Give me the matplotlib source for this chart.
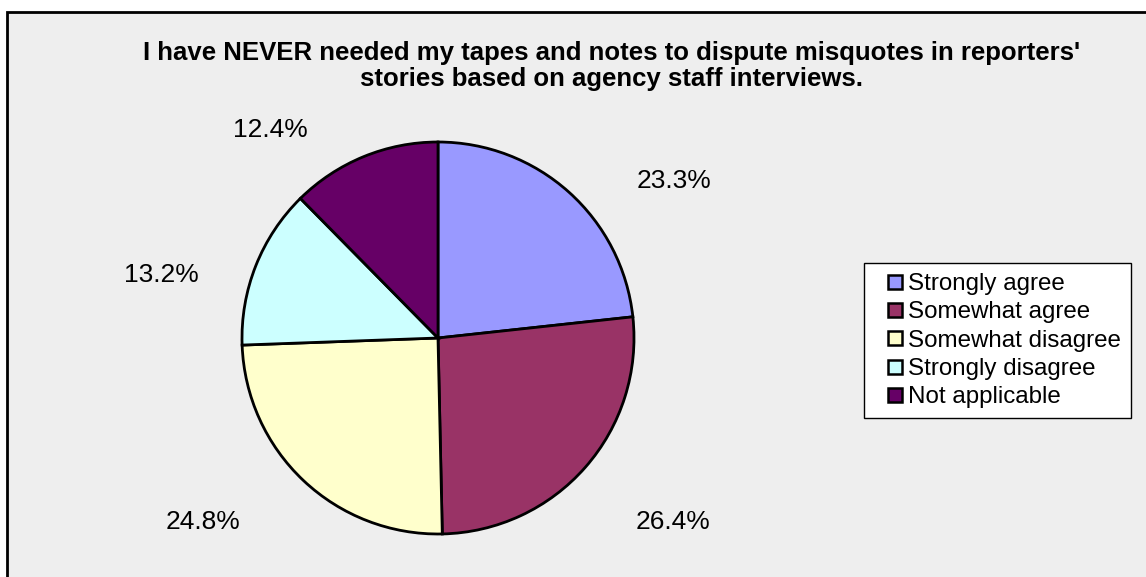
import matplotlib.pyplot as plt
from matplotlib.patches import Rectangle
from matplotlib.lines import Line2D

plt.rcParams['font.family'] = ['Liberation Sans', 'DejaVu Sans']

# survey answers
answers = ['Strongly agree', 'Somewhat agree', 'Somewhat disagree',
           'Strongly disagree', 'Not applicable']
shares = [23.3, 26.4, 24.8, 13.2, 12.4]
colours = ['#9999FF', '#993366', '#FFFFCC', '#CCFFFF', '#660066']

# where each percentage sits, in pie radius units
label_xy = [(1.204, 0.801), (1.199, -0.939), (-1.199, -0.939),
            (-1.413, 0.321), (-0.857, 1.061)]

W, H = 1146, 577
fig = plt.figure(figsize=(W / 100, H / 100), dpi=100)
fig.patch.set_facecolor('white')

# grey chart area with black frame (runs off right and bottom edges)
fig.patches.append(Rectangle((7 / W, -0.05), 1.1, 1 - 12 / H + 0.05,
                             transform=fig.transFigure, facecolor='#EEEEEE',
                             edgecolor='black', linewidth=2, zorder=-5))

fig.text(612 / W, 1 - 66 / H,
         "I have NEVER needed my tapes and notes to dispute misquotes in reporters'\n"
         "stories based on agency staff interviews.",
         ha='center', va='center', fontsize=18.5, fontweight='bold',
         multialignment='center', linespacing=1.15)

cx, cy, r = 438, 338, 196
ax = fig.add_axes([(cx - r) / W, (H - cy - r) / H, 2 * r / W, 2 * r / H])
wedges, texts, autotexts = ax.pie(
    shares, colors=colours, startangle=90, counterclock=False,
    autopct='%.1f%%', pctdistance=1.3,
    wedgeprops=dict(edgecolor='black', linewidth=2))
for t, (x, y) in zip(autotexts, label_xy):
    t.set_position((x, y))
    t.set_fontsize(19)
    t.set_ha('center')
    t.set_va('center')
    t.set_clip_on(False)
ax.set_xlim(-1, 1)
ax.set_ylim(-1, 1)
ax.set_aspect('equal')
ax.axis('off')

handles = [Line2D([], [], linestyle='none', marker='s', markersize=10.5,
                  markerfacecolor=c, markeredgecolor='black', markeredgewidth=1.8)
           for c in colours]
leg = fig.legend(handles, answers, loc='upper left',
                 bbox_to_anchor=(864 / W, 1 - 263 / H),
                 fontsize=17.4, frameon=True, fancybox=False, framealpha=1,
                 handlelength=1.7, handletextpad=-0.3,
                 labelspacing=0.26, borderpad=0.42, borderaxespad=0)
leg.get_frame().set_edgecolor('black')
leg.get_frame().set_linewidth(1)
leg.get_frame().set_facecolor('white')

fig.savefig('out.png', dpi=100)
